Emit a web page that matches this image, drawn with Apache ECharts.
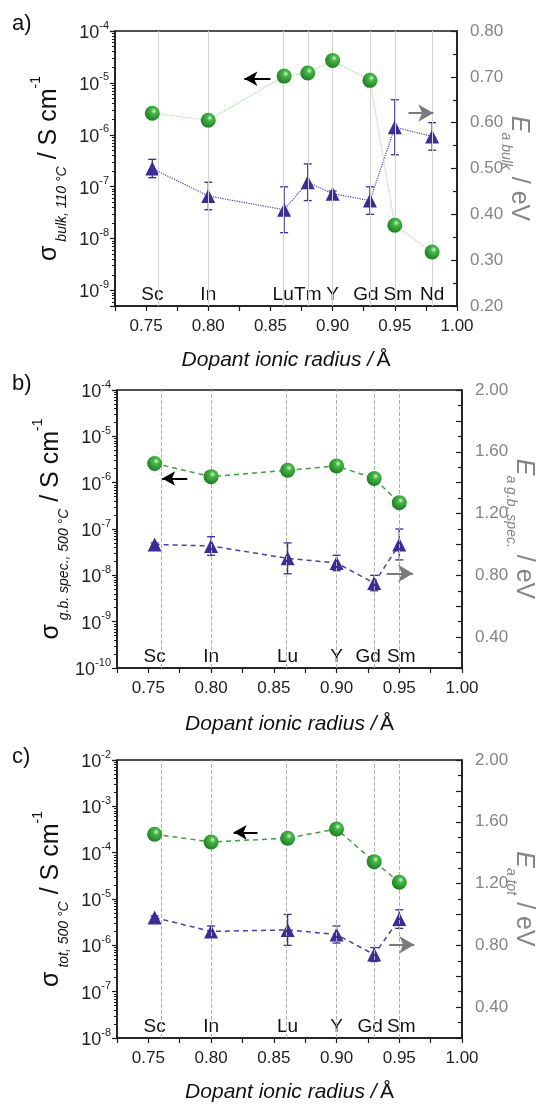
<!DOCTYPE html>
<html>
<head>
<meta charset="utf-8">
<script src="https://cdn.jsdelivr.net/npm/echarts@6/dist/echarts.min.js"></script>
<style>
  body { margin: 0; background: #fff; }
  .panel { position: absolute; left: 0; width: 536px; }
</style>
</head>
<body>
<div id="pa" class="panel" style="top:0;height:370px"></div>
<div id="pb" class="panel" style="top:370px;height:370px"></div>
<div id="pc" class="panel" style="top:740px;height:364px"></div>
<script>
/**
 * 数据 (a) bulk, 110 °C
 * **/
var radiusA = [0.755, 0.80, 0.861, 0.88, 0.90, 0.93, 0.95, 0.98];
var elementsA = ['Sc', 'In', 'Lu', 'Tm', 'Y', 'Gd', 'Sm', 'Nd'];
var sigmaA = [2.6e-6, 1.9e-6, 1.35e-5, 1.55e-5, 2.7e-5, 1.12e-5, 1.8e-8, 5.5e-9];
var eaA = [0.50, 0.44, 0.41, 0.47, 0.445, 0.43, 0.59, 0.57];
var eaErrA = [0.02, 0.03, 0.05, 0.04, 0.006, 0.03, 0.06, 0.03];
var arrowSigmaA = [[0.850, 1.2e-5], [0.829, 1.2e-5]];
var arrowEaA = [[0.961, 0.621], [0.981, 0.621]];

/**
 * 数据 (b) g.b. spec., 500 °C
 * **/
var radiusB = [0.755, 0.80, 0.861, 0.90, 0.93, 0.95];
var elementsB = ['Sc', 'In', 'Lu', 'Y', 'Gd', 'Sm'];
var sigmaB = [2.6e-6, 1.35e-6, 1.85e-6, 2.3e-6, 1.23e-6, 3.7e-7];
var eaB = [1.00, 0.99, 0.91, 0.88, 0.75, 1.00];
var eaErrB = [0.01, 0.06, 0.10, 0.05, 0.05, 0.10];
var arrowSigmaB = [[0.781, 1.23e-6], [0.761, 1.23e-6]];
var arrowEaB = [[0.940, 0.812], [0.961, 0.812]];

/**
 * 数据 (c) tot, 500 °C
 * **/
var radiusC = [0.755, 0.80, 0.861, 0.90, 0.93, 0.95];
var elementsC = ['Sc', 'In', 'Lu', 'Y', 'Gd', 'Sm'];
var sigmaC = [2.5e-4, 1.7e-4, 2.05e-4, 3.25e-4, 6.4e-5, 2.3e-5];
var eaC = [0.98, 0.89, 0.90, 0.87, 0.74, 0.97];
var eaErrC = [0.01, 0.035, 0.10, 0.055, 0.045, 0.06];
var arrowSigmaC = [[0.837, 2.75e-4], [0.818, 2.75e-4]];
var arrowEaC = [[0.942, 0.804], [0.962, 0.804]];

var FONT = '"Liberation Sans", Arial, sans-serif';
var GREEN_BALL = {
	type: 'radial', x: 0.6, y: 0.35, r: 0.75,
	colorStops: [
		{ offset: 0, color: '#d8f5d8' },
		{ offset: 0.25, color: '#45b845' },
		{ offset: 1, color: '#17701c' }
	]
};
var PURPLE = '#3b2c96';

function makePanel(id, p) {
	var chart = echarts.init(document.getElementById(id));
	var errData = p.radius.map(function(r, i) {
		return [r, p.ea[i] - p.err[i], p.ea[i] + p.err[i]];
	});
	var option = {
		animation: false,
		textStyle: { fontFamily: FONT },
		graphic: [{
			type: 'text', left: 12, top: p.labelTop,
			style: { text: p.tag, fontSize: 22, fill: '#111', fontFamily: FONT }
		}],
		grid: {
			left: p.grid[0], right: p.grid[1], top: p.grid[2], bottom: p.grid[3],
			show: true, borderColor: '#1a1a1a', borderWidth: 1.5,
			outerBoundsMode: 'none'
		},
		xAxis: {
			type: 'value', min: 0.725, max: 1.0, interval: 0.025,
			name: '{i|Dopant ionic radius /} {n|Å}',
			nameLocation: 'middle', nameGap: p.xNameGap, nameMoveOverlap: false,
			nameTextStyle: {
				rich: {
					i: { fontSize: 21, fontStyle: 'italic', color: '#111', fontFamily: FONT },
					n: { fontSize: 21, color: '#111', fontFamily: FONT }
				}
			},
			axisLine: { lineStyle: { color: '#1a1a1a', width: 1.5 } },
			axisTick: { inside: false, length: 5, lineStyle: { color: '#1a1a1a', width: 1.2 } },
			splitLine: { show: false },
			axisLabel: {
				margin: 12, fontSize: 17, color: '#222', fontFamily: FONT,
				formatter: function(v) {
					var k = v * 20;
					return Math.abs(k - Math.round(k)) < 1e-6 ? v.toFixed(2) : '';
				}
			}
		},
		yAxis: [{
			type: 'log', logBase: 10, min: p.yMin, max: p.yMax, splitNumber: 6,
			position: 'left',
			name: '{m|σ}{sub| ' + p.sigmaSub + '}{m| / S cm}{sup|-1}',
			nameLocation: 'middle', nameGap: 46, nameMoveOverlap: false,
			nameTextStyle: {
				rich: {
					m: { fontSize: 25, lineHeight: 40, verticalAlign: 'middle', color: '#111', fontFamily: FONT },
					sub: { fontSize: 14, lineHeight: 20, verticalAlign: 'bottom', fontStyle: 'italic', color: '#111', fontFamily: FONT },
					sup: { fontSize: 14, lineHeight: 20, verticalAlign: 'top', color: '#111', fontFamily: FONT }
				}
			},
			axisLine: { show: true, lineStyle: { color: '#1a1a1a', width: 1.5 } },
			axisTick: { inside: false, length: 5, lineStyle: { color: '#1a1a1a', width: 1.2 } },
			minorTick: { show: true, splitNumber: 9, length: 3, lineStyle: { color: '#1a1a1a', width: 1 } },
			splitLine: { show: false },
			axisLabel: {
				margin: 6,
				formatter: function(v) {
					var e = Math.log(v) / Math.LN10;
					if (Math.abs(e - Math.round(e)) > 0.01) return '';
					return '{b|10}{s|' + Math.round(e) + '}';
				},
				rich: {
					b: { fontSize: 18, lineHeight: 22, verticalAlign: 'bottom', color: '#222', fontFamily: FONT },
					s: { fontSize: 11, lineHeight: 12, verticalAlign: 'top', color: '#222', fontFamily: FONT }
				}
			}
		}, {
			type: 'value', min: p.eaMin, max: p.eaMax, interval: p.eaInterval,
			position: 'right',
			name: '{E|E}{sub|a ' + p.eaSub + '}{m| / eV}',
			nameLocation: 'middle', nameGap: 42, nameRotate: -90, nameMoveOverlap: false,
			nameTextStyle: {
				rich: {
					E: { fontSize: 25, lineHeight: 40, verticalAlign: 'middle', fontStyle: 'italic', color: '#858585', fontFamily: FONT },
					m: { fontSize: 25, lineHeight: 40, verticalAlign: 'middle', color: '#858585', fontFamily: FONT },
					sub: { fontSize: 14, lineHeight: 20, verticalAlign: 'bottom', fontStyle: 'italic', color: '#858585', fontFamily: FONT }
				}
			},
			axisLine: { show: true, lineStyle: { color: '#1a1a1a', width: 1.5 } },
			axisTick: { inside: true, length: 6, lineStyle: { color: '#1a1a1a', width: 1.2 } },
			minorTick: { show: true, splitNumber: 2, length: 4, lineStyle: { color: '#1a1a1a', width: 1.2 } },
			splitLine: { show: false },
			axisLabel: {
				margin: 13, fontSize: 17, color: '#858585', fontFamily: FONT,
				formatter: function(v) {
					var k = v / p.eaLabelStep;
					return Math.abs(k - Math.round(k)) < 1e-6 ? v.toFixed(2) : '';
				}
			}
		}],
		series: [{
			// 竖线 + 黑色箭头
			type: 'line', yAxisIndex: 0, data: [], z: 1,
			markLine: {
				silent: true, symbol: 'none', animation: false,
				label: { show: false },
				lineStyle: { color: p.gridColor, width: 1, type: p.gridType },
				data: p.radius.map(function(r) { return { xAxis: r }; }).concat([[
					{ coord: p.arrowSigma[0], symbol: 'none', lineStyle: { color: '#000', width: 2, type: 'solid' } },
					{ coord: p.arrowSigma[1], symbol: 'arrow', symbolSize: [11, 13] }
				]])
			}
		}, {
			// 灰色箭头
			type: 'line', yAxisIndex: 1, data: [], z: 1,
			markLine: {
				silent: true, symbol: 'none', animation: false,
				label: { show: false },
				data: [[
					{ coord: p.arrowEa[0], symbol: 'none', lineStyle: { color: '#7a7a7a', width: 2, type: 'solid' } },
					{ coord: p.arrowEa[1], symbol: 'arrow', symbolSize: [13, 15] }
				]]
			}
		}, {
			name: 'sigma', type: 'line', yAxisIndex: 0, z: 5,
			data: p.radius.map(function(r, i) { return [r, p.sigma[i]]; }),
			symbol: 'circle', symbolSize: 15,
			itemStyle: { color: GREEN_BALL },
			lineStyle: { color: p.greenLine, width: p.lineWidth, type: p.lineType }
		}, {
			name: 'errEa', type: 'custom', yAxisIndex: 1, z: 3,
			data: errData,
			encode: { x: 0, y: [1, 2] },
			renderItem: function(params, api) {
				var lo = api.coord([api.value(0), api.value(1)]);
				var hi = api.coord([api.value(0), api.value(2)]);
				var st = { stroke: PURPLE, lineWidth: 1.3 };
				return {
					type: 'group',
					children: [
						{ type: 'line', shape: { x1: lo[0], y1: lo[1], x2: hi[0], y2: hi[1] }, style: st },
						{ type: 'line', shape: { x1: lo[0] - 4, y1: lo[1], x2: lo[0] + 4, y2: lo[1] }, style: st },
						{ type: 'line', shape: { x1: hi[0] - 4, y1: hi[1], x2: hi[0] + 4, y2: hi[1] }, style: st }
					]
				};
			}
		}, {
			name: 'Ea', type: 'line', yAxisIndex: 1, z: 4,
			data: p.radius.map(function(r, i) { return [r, p.ea[i]]; }),
			symbol: 'triangle', symbolSize: 14,
			itemStyle: { color: PURPLE },
			lineStyle: { color: p.purpleLine, width: p.lineWidth, type: p.lineType }
		}]
	};
	chart.setOption(option);

	// 元素名放在 x 轴上方, 用坐标轴换算位置
	var children = p.radius.map(function(r, i) {
		var pt = chart.convertToPixel({ xAxisIndex: 0, yAxisIndex: 0 }, [r, p.yMin]);
		var dx = p.labelNudge[p.elements[i]] || 0;
		return {
			type: 'text', x: pt[0] + dx, y: pt[1] - 2,
			style: { text: p.elements[i], fontSize: 19, fill: '#111', fontFamily: FONT, align: 'center', verticalAlign: 'bottom' }
		};
	});
	chart.setOption({
		graphic: [{}, { type: 'group', z: 10, children: children }]
	});
	return chart;
}

var chartA = makePanel('pa', {
	tag: 'a)', labelTop: 13, grid: [115, 79, 31, 64], xNameGap: 44,
	radius: radiusA, elements: elementsA, sigma: sigmaA, ea: eaA, err: eaErrA,
	arrowSigma: arrowSigmaA, arrowEa: arrowEaA,
	yMin: 5e-10, yMax: 1e-4, sigmaSub: 'bulk, 110 °C',
	eaMin: 0.2, eaMax: 0.8, eaInterval: 0.1, eaLabelStep: 0.1, eaSub: 'bulk',
	gridType: 'solid', gridColor: '#d4d4d4', lineType: 'dotted', lineWidth: 1.2,
	greenLine: '#a9d9a9', purpleLine: '#4a3fc4',
	labelNudge: { Lu: -1, Gd: -4, Sm: 3 }
});
var chartB = makePanel('pb', {
	tag: 'b)', labelTop: 3, grid: [117, 74, 20, 72], xNameGap: 46,
	radius: radiusB, elements: elementsB, sigma: sigmaB, ea: eaB, err: eaErrB,
	arrowSigma: arrowSigmaB, arrowEa: arrowEaB,
	yMin: 1e-10, yMax: 1e-4, sigmaSub: 'g.b. spec., 500 °C',
	eaMin: 0.2, eaMax: 2.0, eaInterval: 0.2, eaLabelStep: 0.4, eaSub: 'g.b. spec.',
	gridType: 'dashed', gridColor: '#b0b0b0', lineType: [5, 4], lineWidth: 1.5,
	greenLine: '#3f9f3f', purpleLine: '#4a3db5',
	labelNudge: { Gd: -6, Sm: 2 }
});
var chartC = makePanel('pc', {
	tag: 'c)', labelTop: 6, grid: [117, 74, 20, 66], xNameGap: 44,
	radius: radiusC, elements: elementsC, sigma: sigmaC, ea: eaC, err: eaErrC,
	arrowSigma: arrowSigmaC, arrowEa: arrowEaC,
	yMin: 1e-8, yMax: 1e-2, sigmaSub: 'tot, 500 °C',
	eaMin: 0.2, eaMax: 2.0, eaInterval: 0.2, eaLabelStep: 0.4, eaSub: 'tot',
	gridType: 'dashed', gridColor: '#b0b0b0', lineType: [5, 4], lineWidth: 1.5,
	greenLine: '#3f9f3f', purpleLine: '#4a3db5',
	labelNudge: { Gd: -4, Sm: 2 }
});

window.onresize = function() {
	chartA.resize();
	chartB.resize();
	chartC.resize();
};
</script>
</body>
</html>
